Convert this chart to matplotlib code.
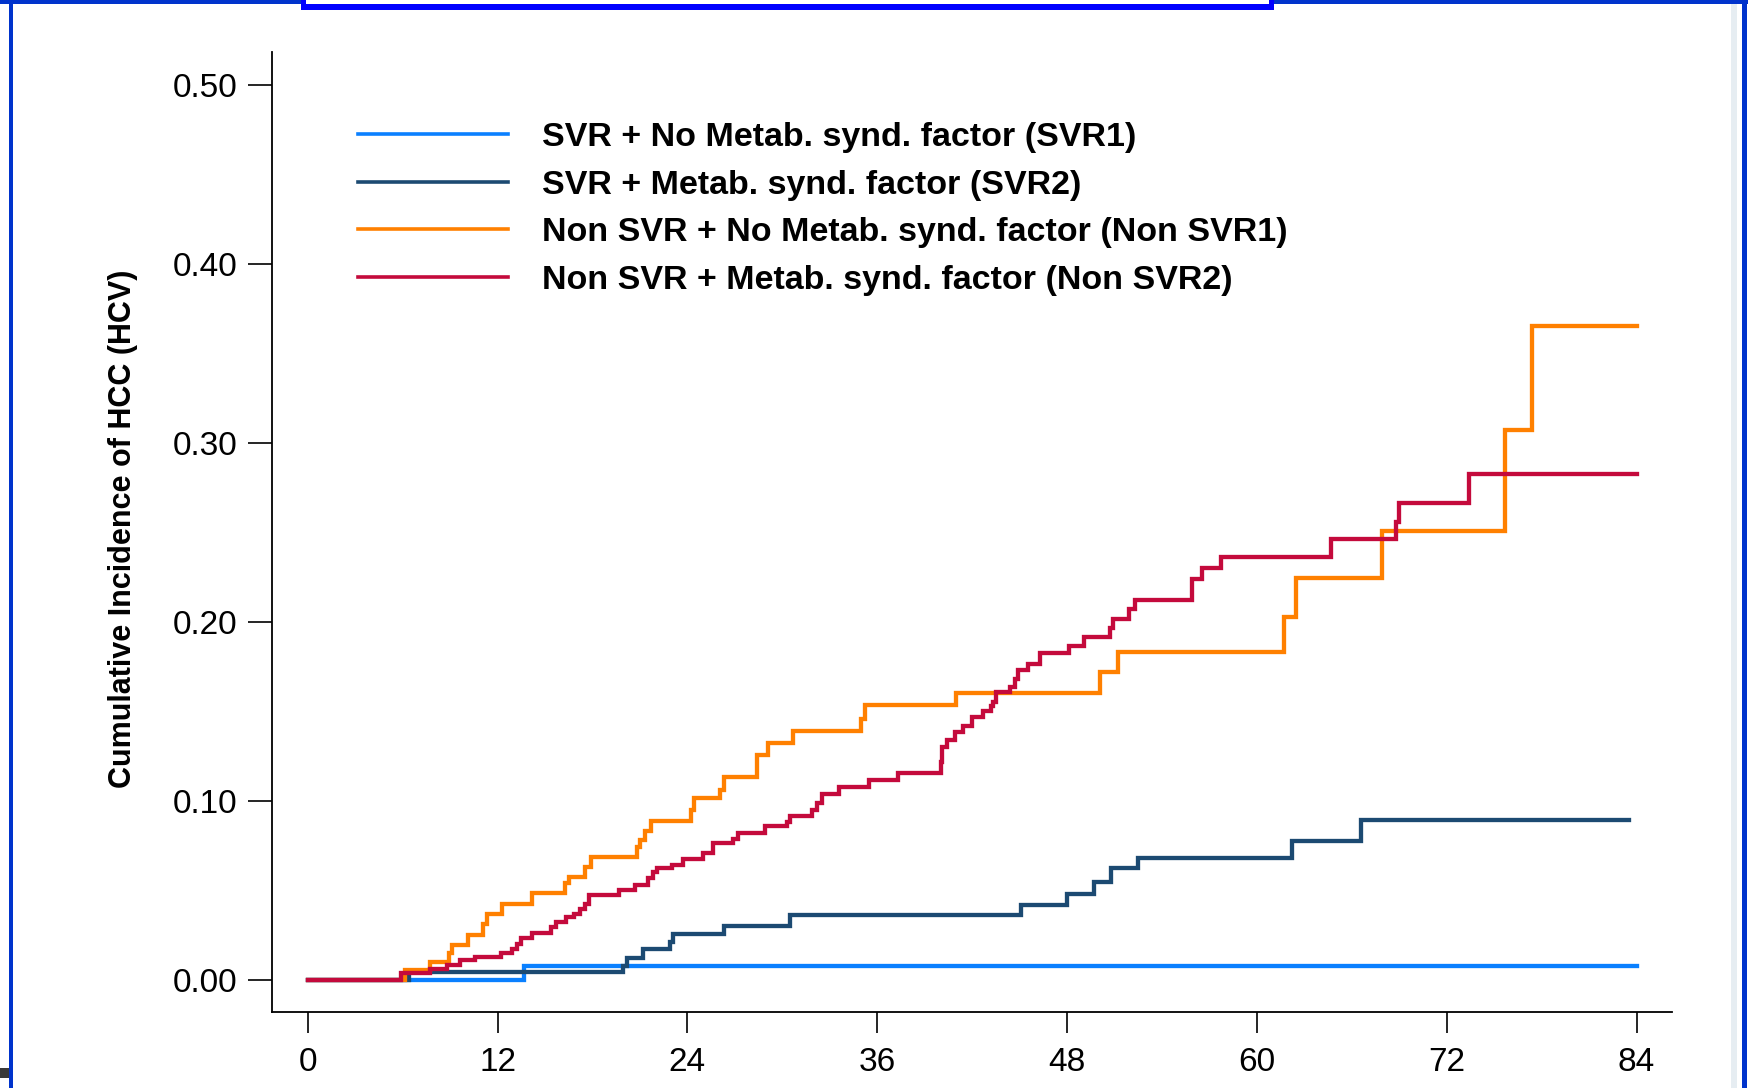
import numpy as np
import matplotlib
matplotlib.use('Agg')
import matplotlib.pyplot as plt
from matplotlib.patches import Rectangle

plt.rcParams['font.family'] = ['Liberation Sans', 'DejaVu Sans']

# Cumulative incidence step curves (months, value)
svr1_t = [0, 13.7, 84]
svr1_y = [0, 0.008, 0.008]

svr2_t = [0, 6.4, 19.9, 20.2, 21.2, 22.9, 23.1, 26.3, 30.5, 45.1, 48.0, 49.7,
          50.8, 52.5, 62.2, 66.6, 83.5]
svr2_y = [0, 0.0043, 0.008, 0.0121, 0.0171, 0.0214, 0.0257, 0.0303, 0.0363,
          0.0419, 0.0479, 0.0549, 0.0624, 0.0683, 0.0778, 0.0894, 0.0894]

nonsvr1_t = [0, 6.15, 7.7, 8.9, 9.1, 10.15, 11.1, 11.3, 12.26, 14.16, 16.26, 16.5,
             17.5, 17.9, 20.8, 21.0, 21.3, 21.7, 24.2, 24.4, 26.06, 26.3, 28.4,
             29.1, 30.7, 35.0, 35.2, 41.0, 50.1, 51.2, 61.7, 62.5, 67.9, 75.7,
             77.4, 84]
nonsvr1_y = [0, 0.0056, 0.0102, 0.015, 0.0196, 0.025, 0.031, 0.037, 0.0425,
             0.0484, 0.054, 0.0577, 0.063, 0.0685, 0.074, 0.078, 0.083, 0.089,
             0.095, 0.1015, 0.106, 0.1136, 0.1257, 0.1322, 0.139, 0.146, 0.1536,
             0.1605, 0.1722, 0.183, 0.203, 0.2244, 0.2508, 0.307, 0.3655, 0.3655]

nonsvr2_t = [0, 5.9, 7.7, 8.8, 9.6, 10.6, 12.2, 12.9, 13.2, 13.5, 14.2, 15.4, 15.7,
             16.3, 16.8, 17.2, 17.5, 17.8, 19.7, 20.7, 21.5, 21.8, 22.1, 23.0,
             23.7, 25.0, 25.6, 26.9, 27.2, 28.9, 30.3, 30.5, 31.9, 32.2, 32.5,
             33.6, 35.5, 37.3, 40.0, 40.1, 40.4, 40.9, 41.4, 42.0, 42.7, 43.2,
             43.3, 43.5, 44.4, 44.7, 44.9, 45.5, 46.3, 48.1, 49.1, 50.7, 50.9,
             51.9, 52.3, 55.9, 56.5, 57.7, 64.7, 68.8, 69.0, 73.4, 84]
nonsvr2_y = [0, 0.0037, 0.006, 0.0084, 0.011, 0.013, 0.0153, 0.0173, 0.020,
             0.0233, 0.026, 0.0298, 0.0326, 0.035, 0.0369, 0.0397, 0.0425, 0.0475,
             0.0503, 0.0531, 0.0568, 0.0605, 0.0624, 0.0642, 0.0674, 0.071,
             0.0764, 0.0786, 0.0823, 0.0862, 0.0884, 0.0916, 0.095, 0.0987,
             0.1039, 0.108, 0.1117, 0.1155, 0.122, 0.1303, 0.134, 0.1387, 0.1418,
             0.1467, 0.150, 0.153, 0.1555, 0.1607, 0.1638, 0.168, 0.1732, 0.1765,
             0.1825, 0.1866, 0.1915, 0.1965, 0.2015, 0.207, 0.2123, 0.2239, 0.23,
             0.2365, 0.2462, 0.256, 0.2663, 0.2827, 0.2827]

labels = ['SVR + No Metab. synd. factor (SVR1)',
          'SVR + Metab. synd. factor (SVR2)',
          'Non SVR + No Metab. synd. factor (Non SVR1)',
          'Non SVR + Metab. synd. factor (Non SVR2)']
colors = ['#0A80FF', '#1C4A72', '#FF8000', '#C40A3C']
x_ticks = [0, 12, 24, 36, 48, 60, 72, 84]
y_ticks = [0.0, 0.1, 0.2, 0.3, 0.4, 0.5]

W, H = 1748, 1088
fig = plt.figure(figsize=(W / 100, H / 100), dpi=100)
ax = fig.add_axes([272 / W, 1 - 1012 / H, 1400 / W, 960 / H])

series = [(svr1_t, svr1_y), (svr2_t, svr2_y), (nonsvr1_t, nonsvr1_y), (nonsvr2_t, nonsvr2_y)]
for (t, v), lab, c in zip(series, labels, colors):
    ax.step(t, v, where='post', color=c, lw=3.1, label=lab, solid_joinstyle='miter')

ax.set_xlim(-2.26, 86.24)
ax.set_ylim(-0.0179, 0.5183)
ax.set_xticks(x_ticks)
ax.set_yticks(y_ticks)
ax.set_yticklabels([f'{v:.2f}' for v in y_ticks])
for s in ['top', 'right']:
    ax.spines[s].set_visible(False)
for s in ['left', 'bottom']:
    ax.spines[s].set_linewidth(1.3)
ax.tick_params(axis='y', direction='out', length=17, width=1.2, labelsize=24, pad=8)
ax.tick_params(axis='x', direction='out', length=15, width=1.2, labelsize=24, pad=10)

ax.set_ylabel('Cumulative Incidence of HCC (HCV)', fontsize=22, fontweight='bold')
ax.yaxis.set_label_coords((123 - 272) / 1400, (1012 - 529) / 960)
ax.yaxis.label.set_va('center')

leg = ax.legend(loc='upper left', bbox_to_anchor=(358 / W, 1 - 122 / H),
                bbox_transform=fig.transFigure, frameon=False, borderpad=0,
                borderaxespad=0, handlelength=4.4, handletextpad=1.0,
                labelspacing=0.49, prop={'size': 24.5, 'weight': 'bold'})
for line in leg.get_lines():
    line.set_linewidth(2.6)


def box(x0, y0, x1, y1, color):
    fig.add_artist(Rectangle((x0 / W, 1 - y1 / H), (x1 - x0) / W, (y1 - y0) / H,
                             transform=fig.transFigure, color=color, lw=0, zorder=5))


# slide frame
border = '#0033CC'
box(0, 0, W, 4, border)
box(9, 0, 13, H, border)
box(1731, 4, 1737, H, '#E6EDF2')
box(1742, 0, 1747, H, border)
box(301, 0, 1274, 9.5, '#0000FF')
box(306, 0, 1269, 3.5, 'white')
box(0, 1068, 9, 1078, '#3A3A3A')

fig.savefig('out.png', dpi=100)
